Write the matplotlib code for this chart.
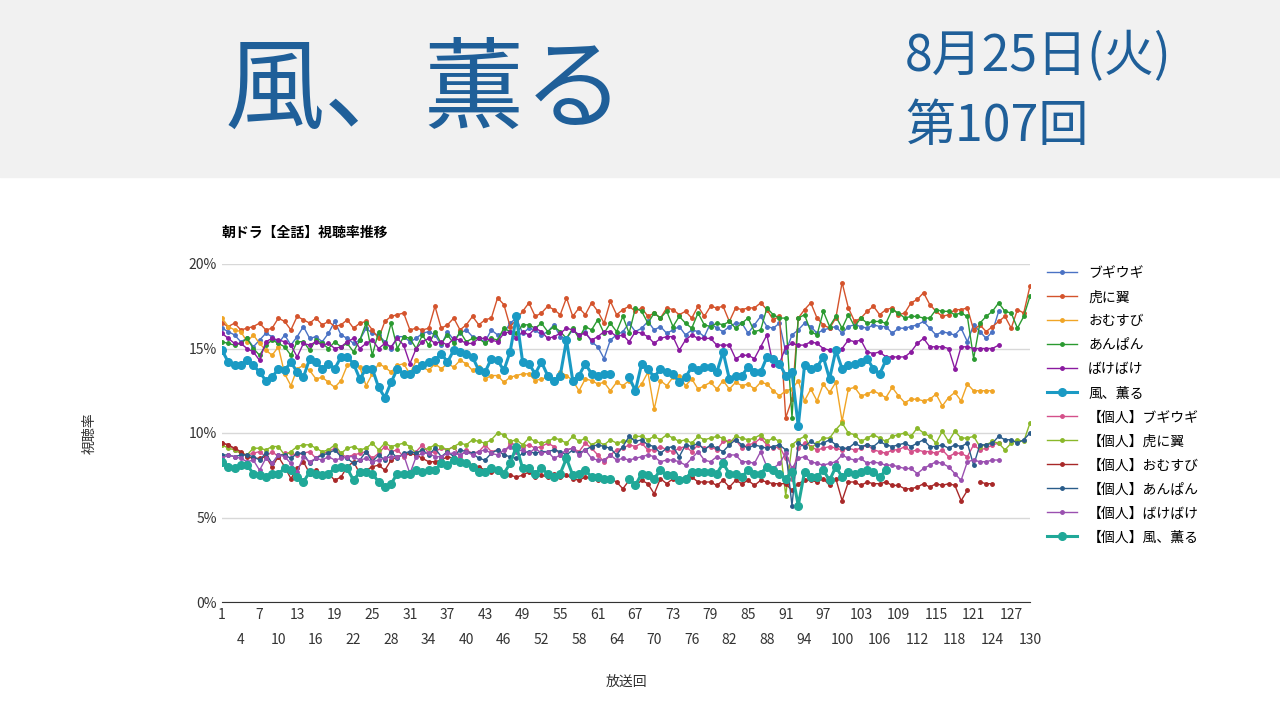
import matplotlib
matplotlib.use("Agg")
import matplotlib.pyplot as plt
from matplotlib.patches import Rectangle
from matplotlib.ticker import FuncFormatter

plt.rcParams['font.family'] = ['Noto Sans CJK JP', 'DejaVu Sans']

# Data
boogie = [16.2,16.0,15.8,15.4,15.6,15.1,15.5,15.9,15.7,15.3,
          15.8,15.2,15.7,16.3,15.6,15.7,15.4,15.9,16.6,15.8,
          15.6,15.3,15.5,16.2,15.9,15.8,15.4,15.0,15.7,15.7,
          15.4,15.6,15.9,16.0,15.8,15.2,16.0,15.5,15.9,16.1,
          15.7,15.6,15.4,16.1,15.8,15.9,16.5,16.8,15.9,16.2,
          16.1,15.8,16.0,16.4,15.7,15.6,16.1,15.8,16.0,15.4,
          15.1,14.4,15.5,15.8,16.0,16.5,16.0,16.2,16.6,16.1,
          16.3,15.9,16.1,16.3,15.8,16.1,16.0,15.7,16.5,16.2,
          16.0,16.3,16.5,16.5,15.9,16.4,16.9,16.3,16.2,16.5,
          14.8,15.8,16.1,16.5,16.3,15.9,16.1,16.2,16.3,15.9,
          16.3,16.4,16.3,16.2,16.4,16.3,16.3,15.9,16.2,16.2,
          16.3,16.4,16.6,16.2,15.8,16.0,15.9,15.8,16.2,15.4,
          16.4,16.0,15.6,16.0,17.2]
tora = [16.5,16.3,16.5,16.1,16.2,16.3,16.5,16.1,16.2,16.8,
        16.6,16.1,16.9,16.7,16.5,16.8,16.4,16.6,16.3,16.4,
        16.7,16.2,16.5,16.6,16.1,15.6,16.6,16.9,17.0,17.1,
        16.1,16.2,16.1,16.2,17.5,16.2,16.4,16.8,16.1,16.4,
        16.9,16.4,16.7,16.8,18.0,17.6,16.3,16.7,17.2,17.7,
        16.9,17.1,17.5,17.3,17.0,18.0,16.9,17.4,17.0,17.7,
        17.2,16.5,17.8,17.0,17.3,17.5,17.2,17.4,16.9,17.1,
        16.8,17.4,17.3,17.0,17.2,16.8,17.5,16.9,17.5,17.4,
        17.5,16.6,17.4,17.3,17.4,17.4,17.7,17.3,16.7,16.9,
        10.9,12.0,16.8,17.3,17.7,16.8,16.4,16.2,16.8,18.9,
        17.4,16.6,16.8,17.2,17.5,17.0,17.3,17.4,17.0,17.1,
        17.7,17.9,18.3,17.6,17.2,16.9,17.0,17.3,17.3,17.4,
        16.1,16.4,16.0,16.3,16.6,16.9,16.2,17.3,17.1,18.7]
omusubi = [16.8,16.3,16.1,16.0,15.4,15.8,15.3,14.9,14.6,15.1,
           13.5,12.8,13.8,14.0,13.7,13.2,13.3,13.0,12.7,13.1,
           14.0,14.2,13.9,12.8,13.5,14.1,13.9,13.6,14.0,14.1,
           13.5,14.3,13.9,13.7,14.1,13.8,14.1,13.9,14.3,14.1,
           13.7,13.9,13.2,13.4,13.4,13.0,13.3,13.4,13.5,13.5,
           13.1,13.2,13.3,13.0,13.6,13.4,13.1,12.5,13.2,13.1,
           12.9,13.0,12.5,13.0,12.8,13.1,12.5,12.9,13.6,11.4,
           13.1,12.8,13.3,13.4,12.8,13.2,12.6,12.8,13.0,12.6,
           13.1,12.6,13.0,12.8,12.9,12.6,13.0,12.9,12.5,12.2,
           12.5,12.6,13.1,11.9,12.6,11.9,12.9,12.4,13.0,10.7,
           12.6,12.7,12.2,12.3,12.5,12.3,12.1,12.7,12.2,11.8,
           12.0,12.0,11.9,12.0,12.3,11.6,12.1,12.4,11.9,12.9,
           12.5,12.5,12.5,12.5]
anpan = [15.4,15.3,15.2,15.3,15.6,15.0,14.6,15.2,15.5,15.3,
         15.1,14.6,15.4,15.4,14.9,15.5,15.3,15.0,15.4,15.1,
         15.3,14.8,15.5,16.5,14.6,16.0,15.1,16.5,15.0,15.7,
         15.6,15.0,15.8,15.2,16.0,15.3,15.8,15.3,16.0,15.4,
         15.6,15.6,15.3,15.6,15.5,16.2,16.0,15.9,16.4,16.4,
         16.2,16.5,16.0,16.3,16.0,15.6,16.2,15.6,16.3,16.1,
         16.7,15.9,16.5,16.0,16.9,15.9,17.4,17.2,16.5,17.1,
         16.8,17.2,16.3,16.9,16.5,16.2,17.1,16.4,16.3,16.5,
         16.4,16.6,16.2,16.5,16.8,16.0,16.1,17.4,17.0,16.8,
         16.8,10.9,16.8,17.0,16.0,15.8,17.2,16.3,16.9,16.2,
         17.0,16.3,16.8,16.5,16.6,16.6,16.5,17.3,17.1,16.8,
         16.9,16.9,16.8,16.8,17.3,17.2,17.2,17.0,17.1,16.9,
         14.4,16.5,16.9,17.2,17.7,17.2,17.1,16.2,16.9,18.1]
bakebake = [15.9,15.6,15.3,15.3,15.0,14.8,14.3,15.4,15.6,15.5,
            15.4,15.2,14.5,15.3,15.2,15.4,15.2,15.3,15.0,15.1,
            15.4,15.6,15.0,15.3,15.5,15.0,15.3,15.1,15.6,15.2,
            14.1,15.0,15.4,15.6,15.3,15.4,15.2,15.6,15.5,15.3,
            15.3,15.6,15.6,15.5,15.4,15.9,16.0,15.6,16.0,15.8,
            16.2,16.0,15.6,15.7,15.9,16.2,16.1,15.8,15.9,15.5,
            15.7,16.0,16.0,15.7,15.8,15.4,16.0,15.9,15.7,15.3,
            15.6,15.7,15.7,14.9,15.5,15.8,15.6,15.6,15.6,15.2,
            15.2,15.2,14.4,14.6,14.6,14.4,15.1,15.8,14.0,14.1,
            15.1,15.3,15.2,15.2,15.4,15.3,15.0,14.9,14.8,15.0,
            15.5,15.4,15.5,14.8,14.7,14.8,14.5,14.5,14.5,14.5,
            14.8,15.3,15.6,15.1,15.1,15.1,15.0,13.8,15.1,15.1,
            15.0,15.0,15.0,15.0,15.2]
kaze = [14.9,14.2,14.0,14.0,14.3,14.0,13.6,13.1,13.3,13.8,
        13.7,14.2,13.6,13.3,14.4,14.2,13.8,14.1,13.8,14.5,
        14.5,14.1,13.2,13.8,13.8,12.7,12.1,13.0,13.8,13.5,
        13.5,13.8,14.0,14.2,14.3,14.7,14.2,14.9,14.8,14.7,
        14.5,13.7,13.6,14.4,14.3,13.7,14.8,16.9,14.2,14.1,
        13.5,14.2,13.4,13.1,13.4,15.5,13.1,13.4,14.1,13.5,
        13.4,13.5,13.5,None,None,13.3,12.5,14.1,13.8,13.3,
        13.8,13.6,13.5,13.0,13.3,13.9,13.7,13.9,13.9,13.6,
        14.8,13.2,13.4,13.4,13.9,13.6,13.6,14.5,14.4,14.1,
        13.4,13.6,10.4,14.0,13.8,13.9,14.5,13.2,14.9,13.8,
        14.0,14.1,14.2,14.4,13.8,13.5,14.3]

p_boogie = [9.4,9.3,9.0,8.8,8.7,8.8,8.9,8.6,8.9,8.6,
            8.8,8.8,8.7,8.8,8.9,8.5,8.8,8.9,9.1,8.7,
            8.6,8.7,8.8,8.9,8.5,8.8,9.2,8.9,9.0,8.6,
            8.8,8.9,9.3,8.8,8.9,9.1,9.0,9.2,8.6,9.0,
            8.8,8.9,9.3,8.9,9.0,8.7,9.4,9.3,9.2,9.3,
            9.1,9.2,9.4,9.2,8.7,9.0,9.1,8.9,9.4,9.1,
            8.7,8.3,8.7,9.0,9.1,9.3,9.2,9.4,9.0,9.0,
            9.2,9.0,8.9,9.1,9.2,8.9,9.3,9.1,9.2,9.0,
            9.5,9.5,9.6,9.1,9.3,9.4,9.7,9.3,9.1,9.2,
            8.5,7.3,9.1,9.4,9.2,9.0,9.1,9.2,9.1,9.0,
            9.1,9.0,9.1,9.3,9.0,8.9,8.8,9.0,9.0,9.2,
            8.9,9.0,8.9,8.9,8.8,9.0,8.6,8.8,8.8,8.6,
            9.3,9.0,9.1,9.3,9.4]
p_tora = [9.3,9.1,9.0,8.8,8.7,9.1,9.1,9.0,9.2,9.2,
          8.7,8.9,9.2,9.3,9.3,9.1,8.9,9.0,9.3,8.8,
          9.1,9.2,9.0,9.1,9.4,9.0,9.4,9.2,9.3,9.4,
          9.2,8.8,9.0,9.1,9.3,9.2,9.0,9.2,9.4,9.3,
          9.6,9.5,9.4,9.6,10.0,9.9,9.5,9.6,9.3,9.7,
          9.5,9.4,9.5,9.7,9.6,9.4,9.8,9.5,9.7,9.3,
          9.5,9.3,9.6,9.4,9.5,9.5,9.8,9.8,9.6,9.8,
          9.6,9.9,9.7,9.5,9.6,9.4,9.8,9.6,9.7,9.8,
          9.7,9.4,9.8,9.7,9.6,9.7,9.9,9.5,9.7,9.5,
          6.3,9.3,9.6,9.8,9.1,9.4,9.7,9.7,10.2,10.6,
          10.0,9.9,9.5,9.7,9.9,9.7,9.5,9.8,9.9,10.0,
          9.8,10.3,10.0,9.8,9.4,10.1,9.5,10.1,9.7,9.7,
          9.8,9.2,9.3,9.5,9.4,9.0,9.4,9.6,9.5,10.6]
p_omusubi = [9.4,9.3,9.1,8.9,8.6,8.5,8.5,8.6,8.0,8.6,
             8.0,7.3,7.9,8.3,7.6,7.8,7.4,7.6,7.2,7.4,
             8.0,8.3,7.6,7.8,8.0,8.1,7.8,8.4,8.6,8.7,
             8.8,8.7,8.5,8.3,8.3,8.4,8.6,8.5,8.3,8.3,
             8.1,8.0,7.8,7.7,7.7,7.5,7.5,7.4,7.5,7.7,
             7.4,7.5,7.4,7.6,7.4,7.5,7.3,7.2,7.4,7.3,
             7.2,7.2,7.3,7.1,6.7,7.2,6.9,7.2,7.0,6.4,
             7.3,7.0,7.3,7.2,7.4,7.4,7.1,7.1,7.1,6.9,
             7.2,6.8,7.2,7.0,7.2,6.9,7.2,7.1,7.0,7.0,
             7.0,6.6,7.0,7.2,7.2,7.1,7.3,6.9,7.3,6.0,
             7.1,7.1,6.9,7.1,7.0,7.0,7.1,6.9,6.9,6.7,
             6.7,6.8,7.0,6.8,7.0,6.9,7.0,6.9,6.0,6.6,
             None,7.1,7.0,7.0]
p_anpan = [8.7,8.7,8.6,8.7,8.7,8.6,8.4,8.8,8.2,8.7,
           8.7,8.5,8.8,8.8,8.2,8.5,8.7,8.8,9.0,8.6,
           8.5,8.2,8.4,8.9,8.3,8.7,8.4,8.9,8.5,8.8,
           8.9,8.8,9.0,8.7,9.1,8.6,8.9,8.6,9.0,8.9,
           8.8,8.5,8.4,8.8,9.0,8.7,8.6,8.5,8.8,8.9,
           8.8,8.9,8.9,9.0,8.9,8.7,9.0,8.8,9.0,9.2,
           9.3,9.2,9.1,8.7,9.2,9.8,9.5,9.6,9.3,9.2,
           8.8,9.1,9.2,8.6,9.3,9.2,9.4,9.0,9.3,9.1,
           8.9,9.3,9.6,9.3,9.1,9.3,9.2,9.1,9.2,9.3,
           9.0,5.7,9.4,9.2,9.5,9.3,9.4,9.6,9.3,9.1,
           9.1,9.4,9.2,9.3,9.2,9.5,9.3,9.2,9.3,9.4,
           9.2,9.4,9.6,9.2,9.2,9.3,9.1,9.3,9.2,9.4,
           8.1,9.3,9.3,9.4,9.8,9.6,9.6,9.4,9.6,10.0]
p_bakebake = [8.5,8.7,8.6,8.5,8.3,8.4,7.8,8.5,8.2,8.7,
              8.6,8.2,7.7,8.6,8.3,8.5,8.4,8.6,8.4,8.5,
              8.6,8.6,8.4,8.5,8.3,8.4,8.5,8.6,8.6,8.7,
              7.6,8.6,8.8,8.8,8.6,8.6,8.8,8.8,8.7,8.9,
              8.7,8.9,9.0,8.8,8.7,9.0,9.2,8.9,9.0,8.8,
              9.1,8.8,8.9,8.5,8.7,9.0,9.1,8.7,9.0,8.5,
              8.4,8.4,8.7,8.4,8.5,8.4,8.5,8.6,8.7,8.6,
              8.3,8.4,8.4,8.3,8.1,8.5,8.9,8.4,8.3,8.6,
              8.4,8.7,8.7,8.3,8.3,8.2,8.9,8.0,7.9,8.2,
              8.8,7.9,8.5,8.6,8.3,8.2,8.1,8.2,8.3,8.7,
              8.5,8.4,8.5,8.2,8.3,8.2,8.1,8.1,8.0,7.9,
              7.9,7.6,7.9,8.1,8.3,8.2,8.0,7.6,7.2,8.3,
              8.4,8.3,8.3,8.4,8.4]
p_kaze = [8.3,8.0,7.9,8.1,8.1,7.6,7.5,7.4,7.6,7.6,
          7.9,7.8,7.4,7.1,7.7,7.6,7.5,7.6,7.9,8.0,
          7.9,7.2,7.7,7.7,7.6,7.1,6.8,7.0,7.6,7.6,
          7.6,7.8,7.7,7.8,7.8,8.2,8.1,8.4,8.3,8.2,
          8.0,7.7,7.7,7.9,7.8,7.6,8.2,9.2,7.9,7.9,
          7.6,7.9,7.6,7.4,7.6,8.5,7.5,7.6,7.8,7.4,
          7.4,7.3,7.3,None,None,7.3,6.9,7.6,7.5,7.3,
          7.8,7.5,7.5,7.2,7.3,7.7,7.7,7.7,7.7,7.6,
          8.2,7.6,7.6,7.4,7.8,7.6,7.6,8.0,7.8,7.6,
          7.3,7.7,5.7,7.7,7.4,7.4,7.8,7.2,8.0,7.4,
          7.7,7.6,7.7,7.8,7.7,7.4,7.8]

series = [
    ('ブギウギ', boogie, '#4a72c4', False),
    ('虎に翼', tora, '#d4532c', False),
    ('おむすび', omusubi, '#f0a526', False),
    ('あんぱん', anpan, '#2a9a30', False),
    ('ばけばけ', bakebake, '#8a1aa0', False),
    ('風、薫る', kaze, '#1a9ac4', True),
    ('【個人】ブギウギ', p_boogie, '#d4508a', False),
    ('【個人】虎に翼', p_tora, '#8ab82a', False),
    ('【個人】おむすび', p_omusubi, '#a82828', False),
    ('【個人】あんぱん', p_anpan, '#2a5c8a', False),
    ('【個人】ばけばけ', p_bakebake, '#9a50b0', False),
    ('【個人】風、薫る', p_kaze, '#20a898', True),
]

fig = plt.figure(figsize=(12.8, 7.2), dpi=100)
fig.patches.append(Rectangle((0, 1 - 177/720), 1, 177/720, transform=fig.transFigure,
                             color='#f1f1f1', zorder=0))
fig.text(225/1280, 1 - 92/720, '風、薫る', fontsize=72, color='#1f5f99', va='center')
fig.text(905/1280, 1 - 57/720, '8月25日(火)', fontsize=36, color='#1f5f99', va='center')
fig.text(905/1280, 1 - 127/720, '第107回', fontsize=36, color='#1f5f99', va='center')

ax = fig.add_axes([222/1280, 1 - 602/720, (1030 - 222)/1280, (602 - 264)/720])
for name, vals, col, main in series:
    xs = list(range(1, len(vals) + 1))
    ys = [float('nan') if v is None else v for v in vals]
    if main:
        ax.plot(xs, ys, '-o', color=col, lw=2.2, ms=5.5, label=name, zorder=5)
    else:
        ax.plot(xs, ys, '-o', color=col, lw=1, ms=2.5, label=name, zorder=3)

ax.set_xlim(1, 130)
ax.set_ylim(0, 20)
ax.set_yticks([0, 5, 10, 15, 20])
ax.yaxis.set_major_formatter(FuncFormatter(lambda v, p: f'{int(v)}%'))
ticks = list(range(1, 131, 3))
ax.set_xticks(ticks[0::2])
ax.set_xticks(ticks[1::2], minor=True)
ax.set_xticklabels([str(t) for t in ticks[0::2]])
ax.set_xticklabels([str(t) for t in ticks[1::2]], minor=True)
ax.grid(axis='y', color='#d8d8d8', lw=1)
ax.set_axisbelow(True)
for s in ['top', 'right', 'left']:
    ax.spines[s].set_visible(False)
ax.spines['bottom'].set_color('#333333')
ax.tick_params(axis='y', length=0, labelsize=10, colors='#333333')
ax.tick_params(axis='x', which='major', length=0, labelsize=10, colors='#333333', pad=4)
ax.tick_params(axis='x', which='minor', length=0, labelsize=10, colors='#333333', pad=22)
ax.set_ylabel('視聴率', fontsize=10, style='italic', labelpad=98, color='#333333')
ax.yaxis.set_label_coords(-0.155, 0.5)
ax.set_xlabel('放送回', fontsize=10, style='italic', color='#333333')
ax.xaxis.set_label_coords(0.5, -0.215)
fig.text(222/1280, 1 - 233/720, '朝ドラ【全話】視聴率推移', fontsize=10, weight='bold', va='center')

ax.legend(loc='upper left', bbox_to_anchor=(1.005, 1.03), frameon=False, fontsize=10,
          handlelength=2.2, labelspacing=0.72)

fig.savefig('out.png', dpi=100)
